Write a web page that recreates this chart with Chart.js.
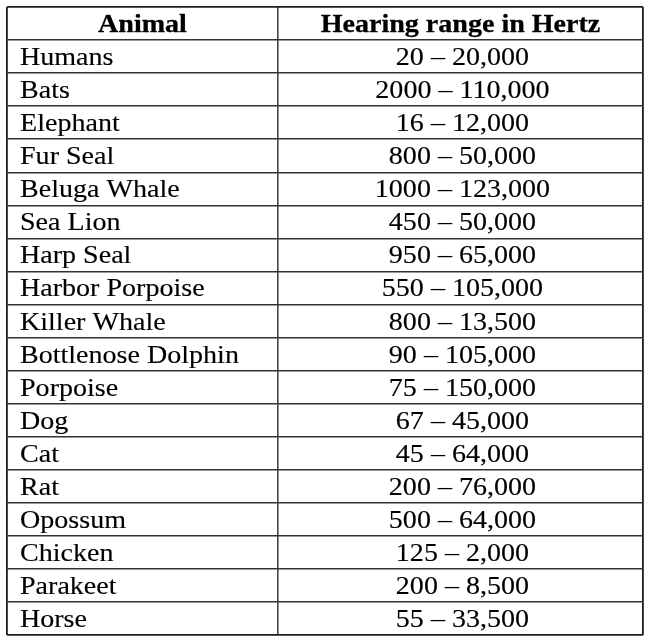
<!DOCTYPE html>
<html>
<head>
<meta charset="utf-8">
<script src="https://cdn.jsdelivr.net/npm/chart.js@4"></script>
<style>
html,body{margin:0;padding:0;background:#ffffff;}
#wrap{width:650px;height:644px;}
</style>
</head>
<body>
<div id="wrap"><canvas id="c" width="650" height="644"></canvas></div>
<script>
// ---- data ----
const headers = ['Animal', 'Hearing range in Hertz'];
const animals = ['Humans', 'Bats', 'Elephant', 'Fur Seal', 'Beluga Whale', 'Sea Lion', 'Harp Seal',
  'Harbor Porpoise', 'Killer Whale', 'Bottlenose Dolphin', 'Porpoise', 'Dog', 'Cat', 'Rat',
  'Opossum', 'Chicken', 'Parakeet', 'Horse'];
const lowHz = [20, 2000, 16, 800, 1000, 450, 950, 550, 800, 90, 75, 67, 45, 200, 500, 125, 200, 55];
const highHz = [20000, 110000, 12000, 50000, 123000, 50000, 65000, 105000, 13500, 105000, 150000,
  45000, 64000, 76000, 64000, 2000, 8500, 33500];

// ---- layout / style ----
const DIV = 0.426;       // column divider as fraction of table width
const SX = 1.1;          // horizontal text stretch
const FONT_PX = 25.5;
const nRows = animals.length + 1;

const rangeText = i => String(lowHz[i]) + ' \u2013 ' + highHz[i].toLocaleString('en-US');

const tablePlugin = {
  id: 'tableText',
  afterDraw(chart) {
    const { ctx, scales: { x, y } } = chart;
    const rowCenter = r => (y.getPixelForValue(r) + y.getPixelForValue(r + 1)) / 2;
    const x0 = x.getPixelForValue(0), xm = x.getPixelForValue(DIV), x1 = x.getPixelForValue(1);
    const draw = (s, px, py, align, bold) => {
      ctx.save();
      ctx.font = (bold ? 'bold ' : '') + FONT_PX + 'px "Liberation Serif", "Times New Roman", serif';
      ctx.fillStyle = '#000000';
      ctx.strokeStyle = '#000000';
      ctx.lineWidth = bold ? 0.3 : 0.15;
      ctx.lineJoin = 'round';
      ctx.textBaseline = 'alphabetic';
      ctx.textAlign = align;
      ctx.translate(px, py);
      ctx.scale(SX, 1);
      ctx.fillText(s, 0, 0);
      ctx.strokeText(s, 0, 0);
      ctx.restore();
    };
    const off = 8.5;
    draw(headers[0], (x0 + xm) / 2, rowCenter(0) + off, 'center', true);
    draw(headers[1], (xm + x1) / 2, rowCenter(0) + off, 'center', true);
    animals.forEach((a, i) => {
      const cy = rowCenter(i + 1) + off;
      draw(a, x0 + 13, cy, 'left', false);
      draw(rangeText(i), (xm + x1) / 2 + 2, cy, 'center', false);
    });
  }
};

new Chart(document.getElementById('c'), {
  type: 'scatter',
  data: { datasets: [] },
  options: {
    responsive: false,
    animation: false,
    layout: { padding: { left: 7, top: 7, right: 7, bottom: 9 } },
    plugins: { legend: { display: false }, tooltip: { enabled: false }, title: { display: false } },
    scales: {
      x: {
        type: 'linear', min: 0, max: 1,
        afterBuildTicks: s => { s.ticks = [{ value: 0 }, { value: DIV }, { value: 1 }]; },
        ticks: { display: false },
        border: { display: false },
        grid: {
          drawTicks: false,
          color: c => (c.index === 1 ? '#444444' : '#1e1e1e'),
          lineWidth: c => (c.index === 1 ? 1.6 : 1.8)
        }
      },
      y: {
        type: 'linear', min: 0, max: nRows, reverse: true,
        afterBuildTicks: s => { s.ticks = Array.from({ length: nRows + 1 }, (_, i) => ({ value: i })); },
        ticks: { display: false },
        border: { display: false },
        grid: {
          drawTicks: false,
          color: c => ((c.index === 0 || c.index === nRows) ? '#1e1e1e' : '#333333'),
          lineWidth: c => ((c.index === 0 || c.index === nRows) ? 1.8 : 1.5)
        }
      }
    }
  },
  plugins: [tablePlugin]
});
</script>
</body>
</html>
